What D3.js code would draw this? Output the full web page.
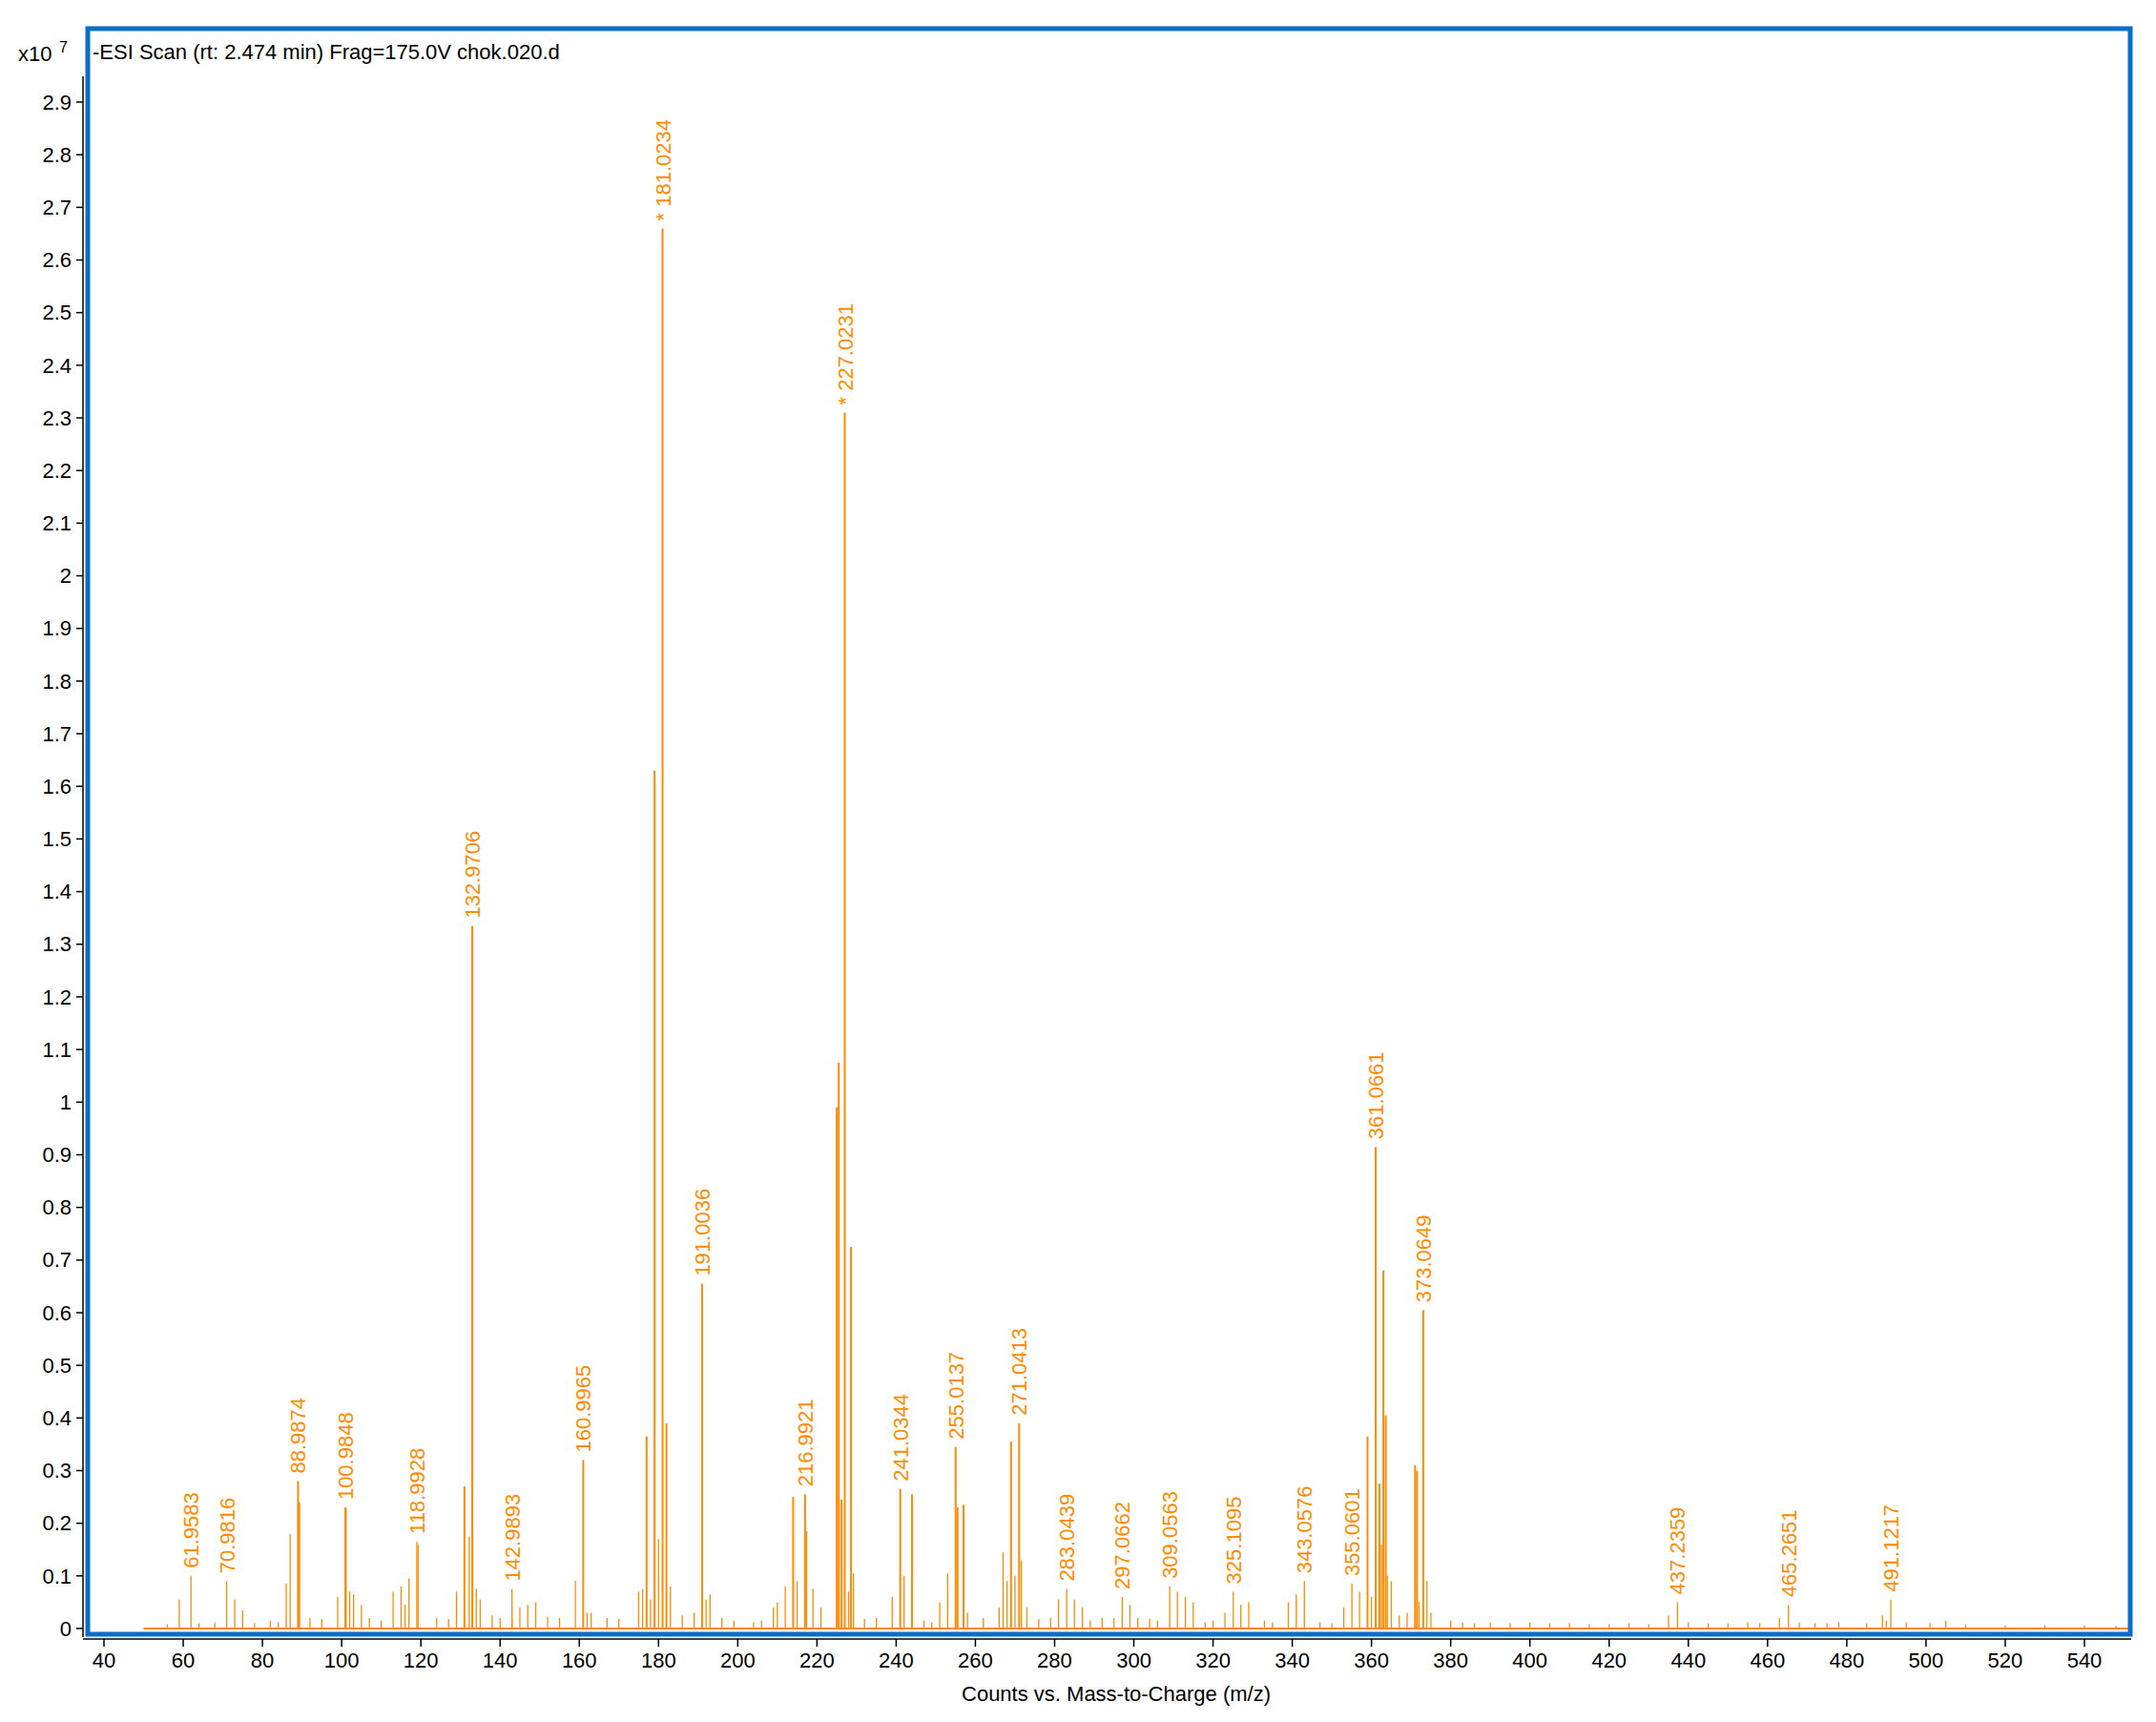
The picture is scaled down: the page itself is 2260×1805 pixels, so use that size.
<!DOCTYPE html>
<html><head><meta charset="utf-8">
<script src="https://cdn.jsdelivr.net/npm/d3@7"></script>
<style>
body{margin:0;background:#fff}
text{font-family:"Liberation Sans Narrow","Arial Narrow","Liberation Sans",sans-serif}
</style></head>
<body><svg id="c" width="2260" height="1805"></svg>
<script>
// peak list (m/z, intensity in x10^7)
const peakMz = [59,61.9583,70.9816,73,75,86,87,88.9874,89.3,99,101.0,100.9848,102,103,105,113,115,116,117,118.9928,119.3,129,131,132.2,132.9706,134,135,143,142.9893,145,147,149,159,160.9965,162,163,175,176,177,178,179,180,181.0234,182,183,189,191.0036,192,193,209,210,212,214,215,216.9921,217.4,219,221,225,225.5,226.2,227.0231,228,228.6,229.2,239,241.0344,242,244,251,253,255.0137,255.5,257,258,266,267,268,269,270,271.0413,271.6,273,279,281,283.0439,285,287,295,297.0662,299,301,309.0563,311,313,315,323,325.1095,327,329,339,341,343.0576,353,355.0601,357,359,360,361.0661,362,362.5,363,363.6,364,365,367,369,371,371.5,372,373.0649,374,375,435,437.2359,463,465.2651,489,490,491.1217,
  56,64,68,78,82,84,92,95,107,110,124,127,138,140,152,155,167,170,186,196,199,204,206,232,235,247,249,262,276,289,292,304,306,318,320,333,335,347,350,380,383,386,390,395,400,405,410,415,420,425,430,440,445,450,455,458,468,472,475,478,485,495,501,505,510,520,530,540,548];
const peakInt = [0.055,0.10,0.09,0.055,0.035,0.085,0.18,0.28,0.24,0.06,0.23,0.23,0.07,0.065,0.045,0.07,0.08,0.045,0.095,0.165,0.16,0.07,0.27,0.175,1.335,0.075,0.055,0.02,0.075,0.04,0.045,0.05,0.09,0.32,0.03,0.03,0.07,0.075,0.365,0.055,1.63,0.17,2.66,0.39,0.08,0.03,0.655,0.055,0.065,0.04,0.05,0.08,0.25,0.09,0.255,0.185,0.075,0.04,0.99,1.075,0.245,2.31,0.07,0.725,0.105,0.06,0.265,0.1,0.255,0.05,0.105,0.345,0.23,0.235,0.03,0.04,0.145,0.09,0.355,0.1,0.39,0.13,0.04,0.02,0.055,0.075,0.055,0.04,0.02,0.06,0.045,0.02,0.08,0.07,0.06,0.05,0.03,0.07,0.045,0.05,0.05,0.065,0.09,0.04,0.085,0.07,0.365,0.06,0.915,0.275,0.16,0.68,0.405,0.1,0.09,0.025,0.03,0.31,0.30,0.05,0.605,0.09,0.03,0.025,0.05,0.02,0.045,0.025,0.015,0.055,
  0.008,0.01,0.012,0.01,0.015,0.012,0.02,0.018,0.02,0.015,0.02,0.018,0.025,0.02,0.022,0.02,0.02,0.018,0.025,0.02,0.015,0.012,0.015,0.018,0.02,0.015,0.012,0.02,0.018,0.015,0.02,0.018,0.015,0.012,0.015,0.015,0.012,0.012,0.01,0.015,0.012,0.01,0.012,0.01,0.012,0.01,0.01,0.008,0.008,0.01,0.008,0.012,0.01,0.01,0.012,0.01,0.012,0.01,0.01,0.012,0.01,0.012,0.01,0.015,0.008,0.006,0.006,0.006,0.005];
const labelText = ["61.9583","70.9816","88.9874","100.9848","118.9928","132.9706","142.9893","160.9965","* 181.0234","191.0036","216.9921","* 227.0231","241.0344","255.0137","271.0413","283.0439","297.0662","309.0563","325.1095","343.0576","355.0601","361.0661","373.0649","437.2359","465.2651","491.1217"];
const labelMz = labelText.map(s => +s.replace("* ", ""));
const yTicks = d3.range(0, 30).map(i => i / 10);
const xTicks = d3.range(40, 541, 20);

const svg = d3.select("#c");
const x = d3.scaleLinear().domain([40, 540]).range([109, 2185]);
const y = d3.scaleLinear().domain([0, 2.9]).range([1707, 107]);
const orange = "#ff8c00";

// baseline + sticks
svg.append("line").attr("x1", x(50)).attr("x2", x(552)).attr("y1", y(0)).attr("y2", y(0))
  .attr("stroke", orange).attr("stroke-width", 2);
const sticks = peakMz.map((m, i) => [m, peakInt[i]]);
svg.append("g").selectAll("line").data(sticks).join("line")
  .attr("x1", d => x(d[0])).attr("x2", d => x(d[0]))
  .attr("y1", y(0)).attr("y2", d => y(d[1]))
  .attr("stroke", orange).attr("stroke-width", d => d[1] > 0.2 ? 2 : 1.3);

// labels
svg.append("g").selectAll("text").data(labelText).join("text")
  .attr("transform", (d, i) => {
    const m = labelMz[i];
    const it = peakInt[peakMz.indexOf(m)];
    return `translate(${x(m) + 8},${y(it) - 8}) rotate(-90)`;
  })
  .attr("font-size", 22).attr("fill", orange).text(d => d);

// y axis
svg.append("line").attr("x1", 87).attr("x2", 87).attr("y1", 80).attr("y2", 1716).attr("stroke", "#000").attr("stroke-width", 1.5);
const yg = svg.append("g").selectAll("g").data(yTicks).join("g").attr("transform", d => `translate(0,${y(d)})`);
yg.append("line").attr("x1", 80).attr("x2", 87).attr("stroke", "#000").attr("stroke-width", 1.5);
yg.append("text").attr("x", 75).attr("dy", "0.35em").attr("text-anchor", "end").attr("font-size", 22)
  .text(d => d === 0 ? "0" : d3.format("~g")(+d.toFixed(1)));

// x axis
svg.append("line").attr("x1", 87).attr("x2", 2234).attr("y1", 1718).attr("y2", 1718).attr("stroke", "#000").attr("stroke-width", 1.5);
const xg = svg.append("g").selectAll("g").data(xTicks).join("g").attr("transform", d => `translate(${x(d)},1718)`);
xg.append("line").attr("y2", 8).attr("stroke", "#000").attr("stroke-width", 1.5);
xg.append("text").attr("y", 30).attr("text-anchor", "middle").attr("font-size", 22).text(d => d);
svg.append("text").attr("x", 1170).attr("y", 1783).attr("text-anchor", "middle").attr("font-size", 22)
  .text("Counts vs. Mass-to-Charge (m/z)");

// frame + titles
svg.append("rect").attr("x", 92).attr("y", 30).attr("width", 2141).attr("height", 1683)
  .attr("fill", "none").attr("stroke", "#0a6ccc").attr("stroke-width", 5);
svg.append("text").attr("x", 97).attr("y", 62).attr("font-size", 22).text("-ESI Scan (rt: 2.474 min) Frag=175.0V chok.020.d");
svg.append("text").attr("x", 19).attr("y", 64).attr("font-size", 22).text("x10");
svg.append("text").attr("x", 62).attr("y", 55).attr("font-size", 16).text("7");
</script></body></html>
